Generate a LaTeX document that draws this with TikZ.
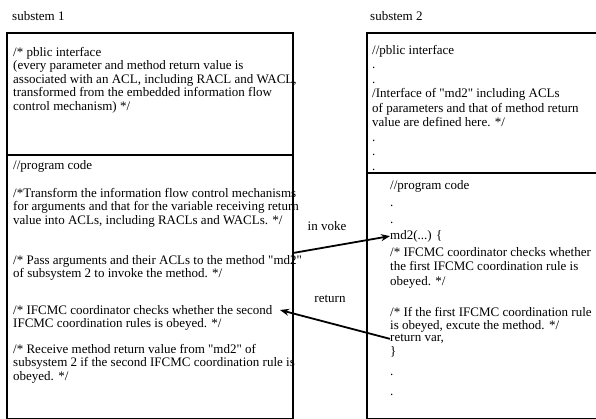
\documentclass[tikz,border=0pt]{standalone}
\usepackage{fontspec}
\setmainfont{Liberation Serif}[Ligatures=TeXOff]
\usetikzlibrary{arrows.meta}

\begin{document}
\begin{tikzpicture}[x=1pt,y=-1pt,
  panel/.style={rectangle, draw, line width=2.2pt, anchor=north west, inner sep=0pt, outer sep=0pt},
  txt/.style={anchor=north west, inner sep=0pt, align=left, font=\fontsize{13}{13.5}\selectfont},
  flow/.style={-{Stealth[length=9pt,width=7pt]}, line width=1.8pt}]
  \useasboundingbox (0,0) rectangle (596,419);
  % subsystem 1
  \node[txt, anchor=west] (sub1) at (12,16) {substem 1};
  \node[panel, minimum width=286pt, minimum height=122pt] (pub1) at (7,33) {};
  \node[panel, minimum width=286pt, minimum height=264pt] (prog1) at (7,155) {};
  \node[txt] (pubtxt1) at (13,47) {/* pblic interface\\(every parameter and method return value is\\associated with an ACL, including RACL and WACL,\\transformed from the embedded information flow\\control mechanism) */};
  \node[txt] (code1) at (13,160) {//program code};
  \node[txt] (trans1) at (13,188) {/*Transform the information flow control mechanisms\\for arguments and that for the variable receiving return\\value into ACLs, including RACLs and WACLs. */};
  \node[txt] (pass1) at (13,255) {/* Pass arguments and their ACLs to the method "md2"\\of subsystem 2 to invoke the method. */};
  \node[txt] (check1) at (13,305) {/* IFCMC coordinator checks whether the second\\IFCMC coordination rules is obeyed. */};
  \node[txt] (recv1) at (13,344) {/* Receive method return value from "md2" of\\subsystem 2 if the second IFCMC coordination rule is\\obeyed. */};
  % subsystem 2
  \node[txt, anchor=west] (sub2) at (370,16) {substem 2};
  \node[panel, minimum width=231pt, minimum height=140pt] (pub2) at (367,33) {};
  \node[panel, minimum width=231pt, minimum height=246pt] (prog2) at (367,173) {};
  \node[txt, font=\fontsize{13}{14.5}\selectfont] (pubtxt2) at (372,45) {//pblic interface\\.\\.\\/Interface of "md2" including ACLs\\of parameters and that of method return\\value are defined here. */\\.\\.\\.};
  \node[txt, font=\fontsize{13}{17}\selectfont] (code2) at (390,180) {//program code\\.\\.};
  \node[txt] (md2) at (390,230) {md2(...) \{};
  \node[txt, font=\fontsize{13}{14.5}\selectfont] (check2) at (390,247) {/* IFCMC coordinator checks whether\\the first IFCMC coordination rule is\\obeyed. */};
  \node[txt] (exec2) at (390,307) {/* If the first IFCMC coordination rule\\is obeyed, excute the method. */};
  \node[txt] (ret2) at (390,334) {return var,};
  \node[txt, font=\fontsize{13}{20}\selectfont] (tail2) at (390,346) {\}\\.\\.};
  % calls between the subsystems
  \coordinate (callpt) at (293,253);
  \coordinate (backpt) at (280,310);
  \draw[flow] (callpt) -- (md2.west);
  \draw[flow] (ret2.west) -- (backpt);
  \node[txt, anchor=center] (lblinv) at (327,226) {in voke};
  \node[txt, anchor=center] (lblret) at (330,299) {return};
\end{tikzpicture}
\end{document}
